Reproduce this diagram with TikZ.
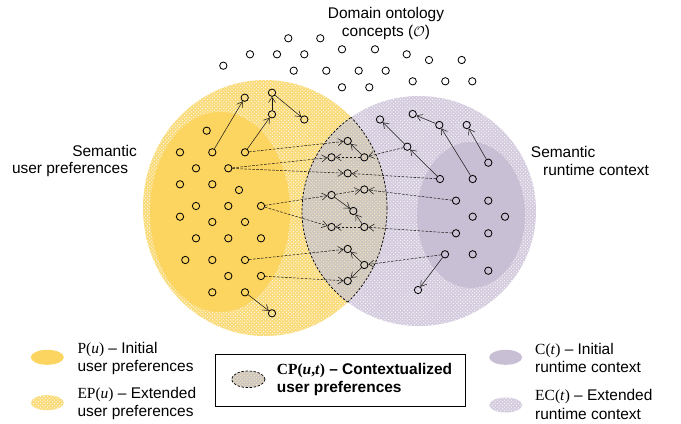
\documentclass[tikz,border=0pt]{standalone}
\usepackage{fontspec}
\setmainfont{Liberation Sans}
\newfontfamily\timesfont{Liberation Serif}
\usetikzlibrary{patterns, arrows.meta}

\definecolor{prefsolid}{RGB}{252,212,96}
\definecolor{prefext}{RGB}{250,219,122}
\definecolor{ctxsolid}{RGB}{201,191,212}
\definecolor{ctxext}{RGB}{212,204,222}
\definecolor{lensfill}{RGB}{206,198,192}

\begin{document}
\begin{tikzpicture}[x=0.03cm, y=-0.03cm,
  dot/.style={circle, draw=black, line width=0.7pt, inner sep=0pt, minimum size=0.22cm},
  link/.style={draw=black!90, line width=0.45pt, -{Straight Barb[length=4.5pt, width=6pt]}},
  dlink/.style={link, dash pattern=on 2.2pt off 1.2pt},
  lensline/.style={black, line width=0.6pt, dash pattern=on 2pt off 1.5pt},
  txt/.style={font=\fontsize{13.2}{15.6}\selectfont, inner sep=0pt, align=left}]

\useasboundingbox (0,0) rectangle (681,423);

\fill[prefext] (265,208) ellipse [x radius=122, y radius=128];
\fill[pattern=crosshatch dots, pattern color=white] (265,208) ellipse [x radius=122, y radius=128];
\fill[ctxext] (419,211) ellipse [x radius=117, y radius=115];
\fill[pattern=crosshatch dots, pattern color=white] (419,211) ellipse [x radius=117, y radius=115];

\begin{scope}
  \clip (265,208) ellipse [x radius=122, y radius=128];
  \fill[lensfill] (419,211) ellipse [x radius=117, y radius=115];
  \fill[pattern=crosshatch dots, pattern color=prefext!50!white] (419,211) ellipse [x radius=117, y radius=115];
  \draw[lensline] (419,211) ellipse [x radius=117, y radius=115];
\end{scope}
\begin{scope}
  \clip (419,211) ellipse [x radius=117, y radius=115];
  \draw[lensline] (265,208) ellipse [x radius=122, y radius=128];
\end{scope}

\fill[prefsolid] (220,212) ellipse [x radius=70, y radius=100];
\fill[ctxsolid] (471,215) ellipse [x radius=54, y radius=73];

% ontology concepts
\foreach \n/\x/\y in {o1/288.3/38.3, o2/320.3/38.3, o3/250/54.3, o4/277/54.3, o5/304.3/54.3,
    o6/342/49.3, o7/375/49.3, o8/406.7/54.3, o9/429/60, o10/461.7/60, o11/223.3/65.7,
    o12/293.7/70.7, o13/326.3/70.7, o14/358.7/70.7, o15/385.7/70.7, o16/342/87.3,
    o17/369.3/87.3, o18/412.7/81.3, o19/445.3/81.3, o20/472.3/81.3}
  \node[dot] (\n) at (\x,\y) {};

% user preferences
\foreach \n/\x/\y in {u1/206.7/130.7, u2/180/152.3, u3/212.3/152.3, u4/245/152.3,
    u5/196/168.3, u6/228.3/168.3, u7/180/184.3, u8/212.3/184.3, u9/239/190,
    u10/196/206, u11/228.3/206, u12/261/206, u13/180/216.7, u14/212.3/222,
    u15/245/222, u16/196/238.3, u17/228.3/238.3, u18/261/238.3, u19/185.3/260,
    u20/212.3/260, u21/245/260, u22/228.3/276, u23/261/276, u24/212.3/292.3,
    u25/245/292.3,
    e1/244.7/97.7, e2/272/92.7, e3/272/114.3, e4/304.3/119.5, e5/272/313.3}
  \node[dot] (\n) at (\x,\y) {};

% contextualized preferences
\foreach \n/\x/\y in {l1/347.7/141, l2/331.5/157.3, l3/364.3/157.3, l4/347.7/173.3,
    l5/364.3/189.5, l6/331.5/195, l7/353.3/211, l8/331.5/227, l9/364.3/227,
    l10/347.7/249, l11/364.3/265, l12/347.7/281}
  \node[dot] (\n) at (\x,\y) {};

% runtime context
\foreach \n/\x/\y in {c1/488.3/162.7, c2/440/179, c3/472.7/179, c4/456/200.7,
    c5/488.3/200.7, c6/472.7/216.7, c7/505/216.7, c8/456/233.3, c9/488.3/233.3,
    c10/445/254.3, c11/472.7/254.3, c12/488.3/270.7,
    f1/380/119.5, f2/412.7/114, f3/439.3/125, f4/466.7/125, f5/407.3/146.7, f6/418/290}
  \node[dot] (\n) at (\x,\y) {};

\foreach \a/\b in {u3/e1, u4/e3, e3/e2, e2/e4, u25/e5, l3/l1, l6/l7, l9/l7, l11/l10, l11/l12,
    f5/f1, f3/f2, c2/f5, c3/f3, c1/f4, c10/f6}
  \draw[link] (\a) -- (\b);
\foreach \a/\b in {u4/l1, u6/l2, u6/l4, u12/l6, u12/l8, u21/l10, u23/l12, l3/l2, l6/l5, l9/l8,
    f5/l3, c2/l4, c4/l5, c8/l9, c10/l11}
  \draw[dlink] (\a) -- (\b);

\node[txt, align=center] (domain) at (386,23.5) {Domain ontology\\concepts ($\mathcal{O}$)};
\node[txt, anchor=east] (semu) at (137,151) {Semantic};
\node[txt, anchor=east] (prefu) at (128.3,170) {user preferences};
\node[txt, anchor=west] (semc) at (530.7,151.7) {Semantic};
\node[txt, anchor=west] (runc) at (543,170) {runtime context};

% legend
\fill[prefsolid] (47.3,357.3) ellipse [x radius=16.5, y radius=7.5];
\node[txt, anchor=west] (legp) at (77.3,358.2) {{\timesfont P(\textit{u})} -- Initial\\user preferences};
\fill[prefext] (47.3,402.7) ellipse [x radius=16.5, y radius=7.5];
\fill[pattern=crosshatch dots, pattern color=white] (47.3,402.7) ellipse [x radius=16.5, y radius=7.5];
\node[txt, anchor=west] (legep) at (77.3,403.8) {{\timesfont EP(\textit{u})} -- Extended\\user preferences};

\draw[black, line width=0.8pt] (215,354) rectangle (465,406.7);
\fill[lensfill] (248.3,379.3) ellipse [x radius=16.7, y radius=8.3];
\fill[pattern=crosshatch dots, pattern color=prefext!50!white] (248.3,379.3) ellipse [x radius=16.7, y radius=8.3];
\draw[lensline] (248.3,379.3) ellipse [x radius=16.7, y radius=8.3];
\node[txt, anchor=west, font=\fontsize{13.2}{15.6}\selectfont\bfseries] (legcp) at (276.7,379.2)
  {{\timesfont CP(\textit{u},\textit{t})} -- Contextualized\\user preferences};

\fill[ctxsolid] (505.7,357.3) ellipse [x radius=16.5, y radius=7.5];
\node[txt, anchor=west] (legc) at (535,358.2) {{\timesfont C(\textit{t})} -- Initial\\runtime context};
\fill[ctxext] (505.7,405) ellipse [x radius=16.5, y radius=7.5];
\fill[pattern=crosshatch dots, pattern color=white] (505.7,405) ellipse [x radius=16.5, y radius=7.5];
\node[txt, anchor=west] (legec) at (535,404.5) {{\timesfont EC(\textit{t})} -- Extended\\runtime context};

\end{tikzpicture}
\end{document}
